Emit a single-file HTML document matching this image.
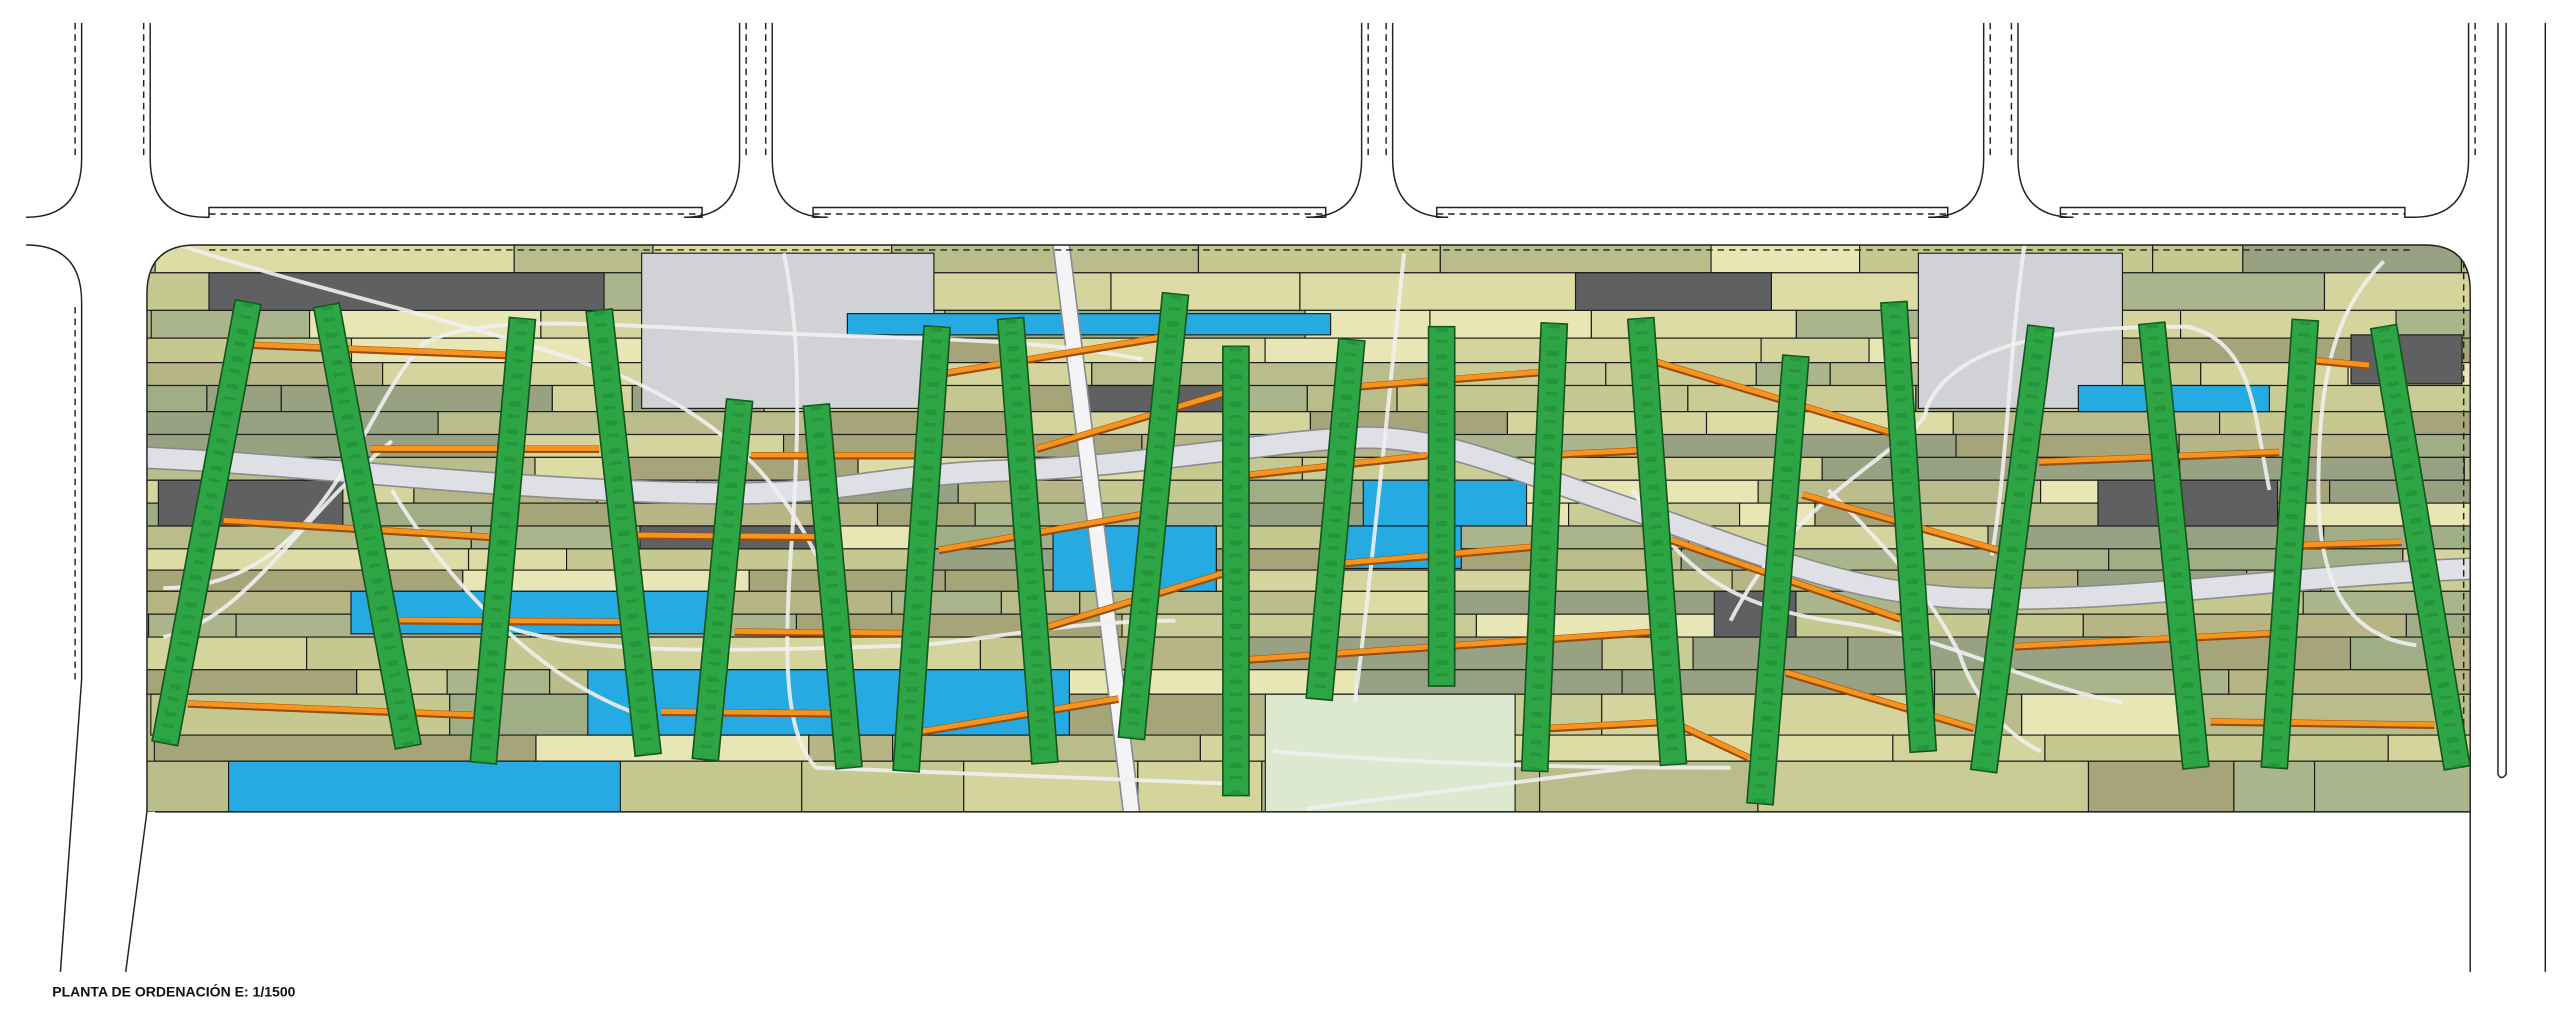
<!DOCTYPE html>
<html><head><meta charset="utf-8"><style>
html,body{margin:0;padding:0;background:#fff;width:2560px;height:1034px;overflow:hidden}
svg{display:block}
</style></head><body>
<svg id="s" width="2560" height="1034" viewBox="0 0 1568 633" preserveAspectRatio="none" xmlns="http://www.w3.org/2000/svg">
<defs>
<clipPath id="park"><path d="M90,180 Q90,150 120,150 L1485,150 Q1513,150 1513,178 L1513,497 L90,497 Z"/></clipPath>
</defs>
<g id="tiles" clip-path="url(#park)"></g>
<g id="over" clip-path="url(#park)"></g>
<g id="streets" fill="none" stroke="#222" stroke-width="0.9"></g>
<g id="bars"></g>
<text x="32" y="610" font-family="Liberation Sans, sans-serif" font-weight="bold" font-size="8.6" fill="#111">PLANTA DE ORDENACIÓN E: 1/1500</text>
</svg>
<script>
const NS="http://www.w3.org/2000/svg";
function el(p,t,a){const e=document.createElementNS(NS,t);for(const k in a)e.setAttribute(k,a[k]);p.appendChild(e);return e;}
const T=document.getElementById('tiles'),O=document.getElementById('over'),S=document.getElementById('streets'),B=document.getElementById('bars');
let seed=7;function rnd(){seed=(seed*16807)%2147483647;return seed/2147483647;}
const pal=['#c9cc95','#b7b585','#a6a57a','#dcdca4','#e9e6b5','#9fae84','#aab58c','#c5c98f','#b9bd8c','#d4d49c','#98a283'];
el(T,'rect',{x:85,y:145,width:1435,height:360,fill:'#b8b988'});
const rows=[150,167,190,207,222,236,252,266,280,294,308,322,336,349,362,376,390,410,425,450,466,497];
for(let r=0;r<rows.length-1;r++){let x=95+rnd()*-40;while(x<1515){const w=45+rnd()*190;el(T,'rect',{x:x,y:rows[r],width:w,height:rows[r+1]-rows[r],fill:pal[Math.floor(rnd()*pal.length)],stroke:'#1a1a1a','stroke-width':0.7});x+=w;}}
const fixed=[
[393,155,179,95,'#d0d2d6'],[1175,155,125,95,'#d0d2d6'],
[128,167,242,23,'#5f6062'],[965,167,120,23,'#5f6062'],[1440,205,68,30,'#5f6062'],[97,294,113,28,'#5f6062'],[1285,294,110,28,'#5f6062'],[1050,362,50,28,'#5f6062'],[392,322,110,14,'#5f6062'],[660,236,90,16,'#5f6062'],
[519,192,296,13,'#25aae1'],[1273,236,117,16,'#25aae1'],[215,362,230,26,'#25aae1'],[360,410,295,40,'#25aae1'],[140,466,240,31,'#25aae1'],[645,322,100,40,'#25aae1'],[835,294,100,28,'#25aae1'],[815,322,80,26,'#25aae1'],
[775,425,153,72,'#dde9cf'],[97,268,0,0,'#000']];
fixed.forEach(f=>{if(f[2])el(T,'rect',{x:f[0],y:f[1],width:f[2],height:f[3],fill:f[4],stroke:'#1a1a1a','stroke-width':0.7});});
// main walkway
const wp="M85,280 C200,285 300,300 440,302 C520,303 540,290 620,288 C700,285 780,270 830,268 C880,266 920,285 1000,312 C1080,340 1130,362 1200,366 C1300,370 1400,352 1520,348";
el(O,'path',{d:wp,stroke:'#8a8c90','stroke-width':14,fill:'none'});
el(O,'path',{d:wp,stroke:'#dfe0e6','stroke-width':12,fill:'none'});
el(O,'path',{d:"M650,150 L693,497",stroke:'#8a8c90','stroke-width':11,fill:'none'});
el(O,'path',{d:"M650,150 L693,497",stroke:'#f4f4f6','stroke-width':9,fill:'none'});
// thin white paths
["M110,150 C200,180 300,200 380,230 C450,260 480,300 500,340",
"M480,155 C490,200 490,260 485,330 C480,400 480,450 500,470 L760,480",
"M100,360 C200,360 220,250 260,210 C300,190 380,200 500,205 C600,208 650,210 700,220",
"M100,390 C150,380 180,320 240,270",
"M300,380 C350,400 420,400 560,395 C600,393 650,380 720,380",
"M240,300 C270,350 330,420 400,440",
"M860,155 C850,250 840,350 830,430",
"M800,495 L1000,470",
"M780,460 C900,470 1000,470 1060,470",
"M1060,380 C1100,300 1180,270 1180,250 C1200,200 1300,200 1340,200 C1380,210 1380,250 1390,300",
"M1460,160 C1430,190 1420,230 1420,300 C1420,360 1440,390 1480,395",
"M1120,300 C1150,330 1180,360 1200,400 C1210,430 1230,450 1250,460",
"M1000,300 C1030,350 1060,370 1120,380 C1200,390 1240,420 1300,430",
"M1240,150 C1230,220 1230,280 1220,340"].forEach(d=>el(O,'path',{d:d,stroke:'#f0f0f0','stroke-width':2.4,fill:'none','stroke-opacity':0.9}));
// orange
const or=[[145,211,320,218],[227,275,367,275],[137,319,300,329],[380,328,500,329],[245,380,382,381],[450,387,555,388],[115,431,290,438],[405,436,512,437],[460,279,560,279],[577,229,710,207],[635,275,760,238],[575,337,700,315],[642,384,750,351],[565,448,685,428],[765,291,874,279],[830,237,945,228],[824,345,939,335],[765,404,1014,387],[944,279,1004,276],[1015,222,1158,265],[1104,303,1224,337],[1024,331,1164,379],[1249,283,1396,277],[1234,396,1391,388],[1094,412,1209,446],[1354,442,1491,444],[949,446,1024,442],[1024,442,1071,464],[1419,221,1451,224],[1411,334,1471,332]];
or.forEach(o=>{el(B,'line',{x1:o[0],y1:o[1],x2:o[2],y2:o[3],stroke:'#9a4d0c','stroke-width':4.6});el(B,'line',{x1:o[0],y1:o[1]-0.5,x2:o[2],y2:o[3]-0.5,stroke:'#f7941d','stroke-width':3});});
// green bars
const g=[[152,185,101,455],[200,187,250,457],[320,195,296,467],[367,190,397,462],[453,245,432,465],[500,248,520,470],[574,200,555,472],[619,195,640,467],[720,180,693,452],[757,212,757,487],[828,208,808,428],[883,200,883,420],[952,198,940,472],[1005,195,1025,468],[1100,218,1078,492],[1160,185,1178,460],[1250,200,1215,472],[1318,198,1345,470],[1412,196,1393,470],[1460,200,1505,470]];
g.forEach(b=>{const dx=b[2]-b[0],dy=b[3]-b[1],L=Math.hypot(dx,dy),nx=-dy/L*8,ny=dx/L*8;
el(B,'polygon',{points:`${b[0]+nx},${b[1]+ny} ${b[0]-nx},${b[1]-ny} ${b[2]-nx},${b[3]-ny} ${b[2]+nx},${b[3]+ny}`,fill:'#2ea544',stroke:'#14561f','stroke-width':1});
el(B,'line',{x1:b[0],y1:b[1],x2:b[2],y2:b[3],stroke:'#1f8a35','stroke-width':7,'stroke-dasharray':'3 5 2 7','stroke-opacity':0.6});});
// park outline / dashed top
el(S,'path',{d:"M90,180 Q90,150 120,150 L1485,150 Q1513,150 1513,178 L1513,595",stroke:'#222'});
el(S,'path',{d:"M90,180 L90,497 L77,595"});
el(S,'line',{x1:128,y1:153,x2:1478,y2:153,'stroke-dasharray':'4 3'});
el(S,'line',{x1:95,y1:497,x2:1513,y2:497});
// upper blocks
function block(x1,x2,t1,t2,rightOpen){
 let d=`M${x1},14 L${x1},97 Q${x1},133 ${x1+34},133 L${t1},133 L${t1},127 L${t2},127 L${t2},133 L${x2-34},133 Q${x2},133 ${x2},97 L${x2},14`;
 el(S,'path',{d:d});
 el(S,'line',{x1:x1-4,y1:14,x2:x1-4,y2:97,'stroke-dasharray':'4 3'});
 el(S,'line',{x1:x2+4,y1:14,x2:x2+4,y2:97,'stroke-dasharray':'4 3'});
 el(S,'line',{x1:t1,y1:131,x2:t2,y2:131,'stroke-dasharray':'4 3'});
}
block(92,453,128,430);block(473,834,498,812);block(853,1215,880,1193);block(1236,1512,1262,1473);
el(S,'path',{d:"M50,14 L50,97 Q50,133 16,133"});
el(S,'line',{x1:46,y1:14,x2:46,y2:97,'stroke-dasharray':'4 3'});
el(S,'path',{d:"M16,150 Q50,150 50,185 L50,416 L37,595"});
el(S,'line',{x1:46,y1:188,x2:46,y2:416,'stroke-dasharray':'4 3'});
el(S,'path',{d:"M1530,14 L1530,474 Q1532,478 1535,474 L1535,14"});
el(S,'line',{x1:1559,y1:14,x2:1559,y2:595});
el(S,'line',{x1:1509,y1:160,x2:1509,y2:470,'stroke-dasharray':'4 3'});
</script>
</body></html>
